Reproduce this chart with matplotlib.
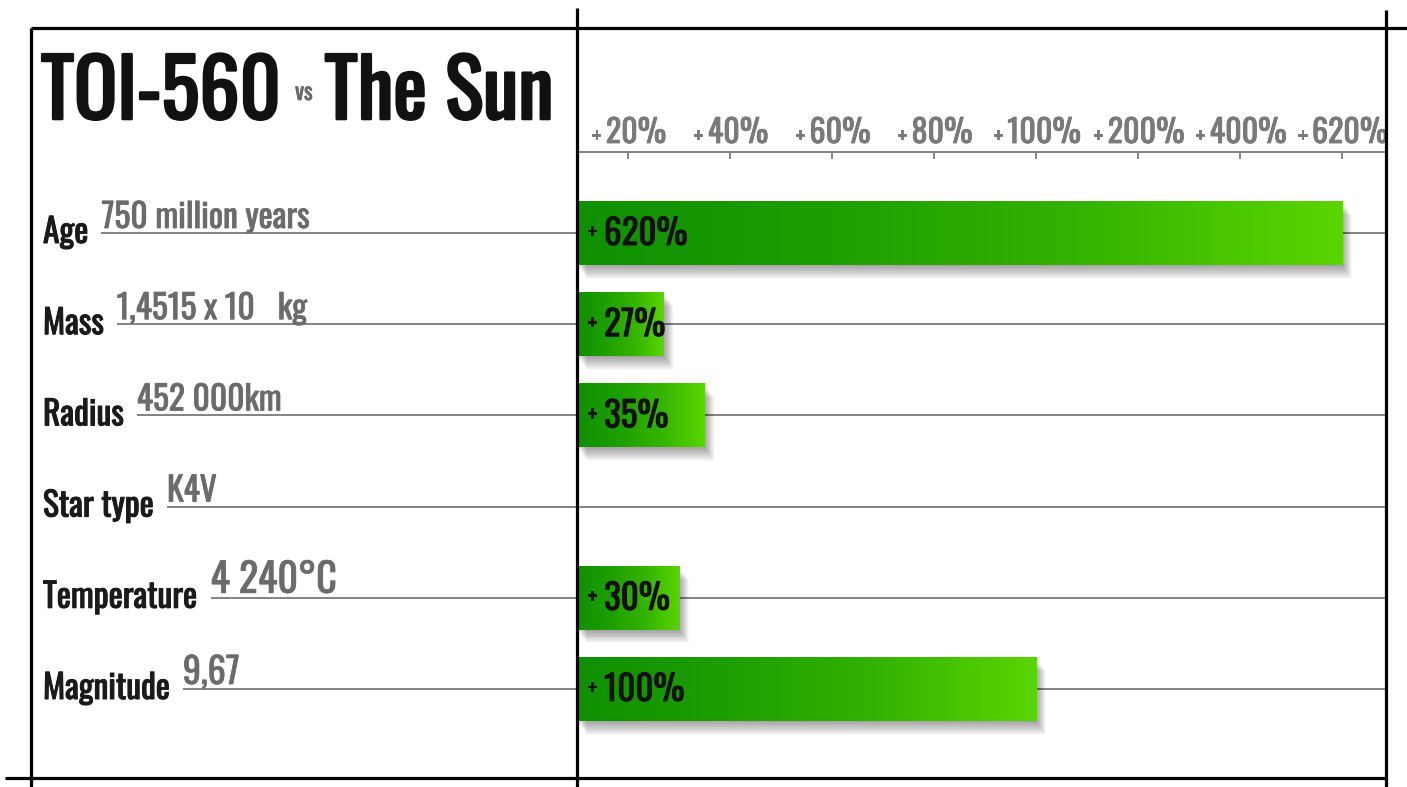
import numpy as np
import matplotlib
matplotlib.use("Agg")
import matplotlib.pyplot as plt
from matplotlib import font_manager as fm
from matplotlib.transforms import TransformedBbox, BboxTransformTo, blended_transform_factory
from matplotlib.colors import LinearSegmentedColormap
import matplotlib.patheffects as pe

# ---------------- data ----------------
title_left = "TOI-560"
title_vs = "vs"
title_right = "The Sun"
categories = ["Age", "Mass", "Radius", "Star type", "Temperature", "Magnitude"]
value_texts = ["750 million years", "1,4515 x 10   kg", "452 000km", "K4V", "4 240°C", "9,67"]
percent_values = [620, 27, 35, np.nan, 30, 100]
tick_values = [20, 40, 60, 80, 100, 200, 400, 620]
tick_labels = ["20%", "40%", "60%", "80%", "100%", "200%", "400%", "620%"]
# break points of the chart's uneven percentage scale (value -> slot)
scale_values = [0, 20, 40, 60, 80, 100, 200, 400, 620, 740]
scale_slots = [0, 0.5, 1.5, 2.5, 3.5, 4.5, 5.5, 6.5, 7.5, 8.1]

# ---------------- fonts ----------------
names = {f.name for f in fm.fontManager.ttflist}
FAMILY = "Oswald" if "Oswald" in names else "DejaVu Sans"
FONT = dict(family=FAMILY)

# ---------------- layout ----------------
W, H, DPI = 1407, 787, 100
fig = plt.figure(figsize=(W / DPI, H / DPI), dpi=DPI, facecolor="white")


def px(v):
    return v * 72.0 / DPI


def fx(x):
    return x / W


ROW0, ROWSTEP = 233.0, 91.2
AX_TOP, AX_BOT = 152.0, 778.0
X_LEFT, X_MID, X_RIGHT = 31.0, 577.0, 1386.0
ylim = ((AX_BOT - ROW0) / ROWSTEP, (AX_TOP - ROW0) / ROWSTEP)
ax_h = (AX_BOT - AX_TOP) / H
ax_b = 1 - AX_BOT / H

axR = fig.add_axes([fx(X_MID), ax_b, fx(X_RIGHT - X_MID), ax_h])
axL = fig.add_axes([fx(X_LEFT), ax_b, fx(X_MID - X_LEFT), ax_h])
for a in (axR, axL):
    a.set_facecolor("none")
    for s in a.spines.values():
        s.set_visible(False)


def fwd(v):
    return np.interp(v, scale_values, scale_slots)


def inv(s):
    return np.interp(s, scale_slots, scale_values)


axR.set_xscale("function", functions=(fwd, inv))
xmax = float(inv(7.93))

rows = np.arange(len(categories))
GRID = "#858585"
BOLDEN = [pe.withStroke(linewidth=px(1.0), foreground="#1a1a1a")]
BOLDEN_GREY = [pe.withStroke(linewidth=px(0.8), foreground="#6e6e6e")]

# gridlines through the right panel
axR.hlines(rows, 0, xmax, color=GRID, lw=px(2), zorder=1)

# bars
bar_rows = [i for i, v in enumerate(percent_values) if not np.isnan(v)]
bar_vals = [percent_values[i] for i in bar_rows]
bars = axR.barh(bar_rows, bar_vals, height=0.7, left=0, color="#2aa800", lw=0, zorder=2)
shadow = [pe.SimplePatchShadow(offset=(d * 0.5, -d * 0.7), shadow_rgbFace="black", alpha=0.028)
          for d in range(1, 15)] + [pe.Normal()]
cmap = LinearSegmentedColormap.from_list("g", ["#0f9000", "#1e9f00", "#35b400", "#5ad600"])
grad = np.linspace(0, 1, 256).reshape(1, -1)
for b in bars:
    b.set_path_effects(shadow)
    tb = TransformedBbox(b.get_bbox(), axR.transData)
    axR.imshow(grad, cmap=cmap, aspect="auto", extent=(0, 1, 0, 1),
               transform=BboxTransformTo(tb), interpolation="bilinear", zorder=2.5)

# bar labels
for r, v in zip(bar_rows, bar_vals):
    axR.annotate(f"{v:g}%", xy=(0, r), xytext=(27, -12), textcoords="offset pixels",
                 ha="left", va="baseline", fontsize=px(35), color="#111111", zorder=5,
                 path_effects=BOLDEN, **FONT)
    axR.annotate("+", xy=(0, r), xytext=(15, -7), textcoords="offset pixels",
                 ha="center", va="baseline", fontsize=px(23), color="#111111", zorder=5,
                 path_effects=BOLDEN, **FONT)

axR.set_xlim(0, xmax)
axR.set_ylim(*ylim)
axR.autoscale(False)

# top percentage axis
axR.spines["top"].set_visible(True)
axR.spines["top"].set_color(GRID)
axR.spines["top"].set_linewidth(px(2))
axR.set_xticks(tick_values)
axR.xaxis.set_ticks_position("top")
axR.tick_params(axis="x", direction="in", length=5, width=px(2), color=GRID,
                labeltop=False, labelbottom=False)
axR.set_yticks([])
trans = blended_transform_factory(axR.transData, axR.transAxes)
for v, lab in zip(tick_values, tick_labels):
    t = axR.annotate(lab, xy=(v, 1), xycoords=trans, xytext=(8, 9), textcoords="offset pixels",
                     ha="center", va="baseline", fontsize=px(32), color="#7a7a7a",
                     path_effects=BOLDEN_GREY, **FONT)
    axR.annotate("+", xy=(0, 0.38), xycoords=t, xytext=(-5, 0), textcoords="offset pixels",
                 ha="right", va="center", fontsize=px(22), color="#7a7a7a",
                 path_effects=BOLDEN_GREY, **FONT)

# left panel
axL.set_xlim(0, 1)
axL.set_ylim(*ylim)
axL.set_xticks([])
axL.set_yticks([])
label_x = (43 - X_LEFT) / (X_MID - X_LEFT)
lab_objs = []
for i, cat in enumerate(categories):
    t = axL.text(label_x, i + 10 / ROWSTEP, cat, ha="left", va="baseline",
                 fontsize=px(33.5), color="#1a1a1a", path_effects=BOLDEN, **FONT)
    lab_objs.append(t)

fig.canvas.draw()
renderer = fig.canvas.get_renderer()
value_sizes = {4: 40, 5: 36}
for i, (t, val) in enumerate(zip(lab_objs, value_texts)):
    bb = t.get_window_extent(renderer)
    xs = axL.transData.inverted().transform((bb.x1 + 13, 0))[0]
    axL.text(xs, i - 5 / ROWSTEP, val, ha="left", va="baseline",
             fontsize=px(value_sizes.get(i, 33.5)), color="#6b6b6b",
             path_effects=BOLDEN_GREY, **FONT)
    axL.hlines(i, xs, 1, color=GRID, lw=px(2), zorder=1)

# frame + title (pixel overlay)
axF = fig.add_axes([0, 0, 1, 1])
axF.set_xlim(0, W)
axF.set_ylim(H, 0)
axF.axis("off")
axF.patch.set_alpha(0)
LW = px(3.2)
for xs_, ys_ in [([31, 1407], [28, 28]), ([31, 31], [28, 787]), ([577, 577], [8, 787]),
                 ([1386, 1386], [10, 787]), ([5, 1386], [778, 778])]:
    axF.plot(xs_, ys_, color="black", lw=LW, solid_capstyle="butt", clip_on=False)

TITLE_FX = [pe.withStroke(linewidth=px(2.6), foreground="#111111")]
t1 = axF.text(41, 119, title_left, ha="left", va="baseline", fontsize=px(80),
              fontweight="bold", color="#111111", path_effects=TITLE_FX, **FONT)
t2 = axF.annotate(title_vs, xy=(1, 100), xycoords=(t1, "data"), xytext=(14, 0),
                  textcoords="offset pixels", ha="left", va="baseline", fontsize=px(23),
                  fontweight="bold", color="#6a6a6a", path_effects=BOLDEN_GREY, **FONT)
axF.annotate(title_right, xy=(1, 119), xycoords=(t2, "data"), xytext=(12, 0),
             textcoords="offset pixels", ha="left", va="baseline", fontsize=px(80),
             fontweight="bold", color="#111111", path_effects=TITLE_FX, **FONT)

fig.savefig("out.png", dpi=DPI, facecolor="white")
